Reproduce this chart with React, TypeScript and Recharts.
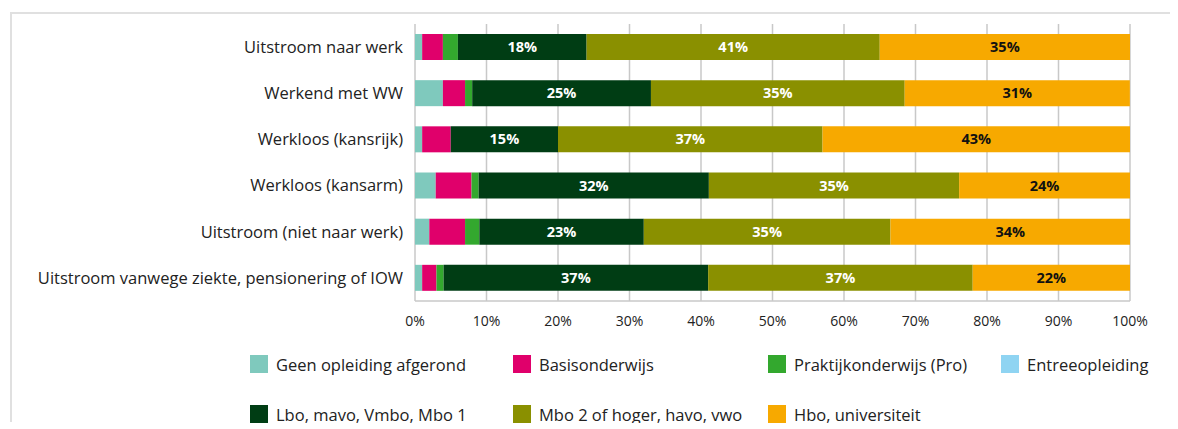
import React from "react";
import {
    Bar,
    BarChart,
    CartesianGrid,
    LabelList,
    XAxis,
    YAxis,
} from "recharts";

const categories = [
    "Uitstroom naar werk",
    "Werkend met WW",
    "Werkloos (kansrijk)",
    "Werkloos (kansarm)",
    "Uitstroom (niet naar werk)",
    "Uitstroom vanwege ziekte, pensionering of IOW",
];

const geen = [1, 3.9, 1, 2.9, 2, 1];
const basis = [2.9, 3.1, 4, 5, 5, 2];
const pro = [2.1, 1, 0, 1, 2, 1];
const entree = [0, 0, 0, 0, 0, 0];
const lbo = [18, 25, 15, 32.2, 23, 37];
const mbo = [41, 35.49, 37, 35, 34.5, 37];
const hbo = [35, 31.49, 43, 23.9, 33.5, 22];

const xTicks = [0, 10, 20, 30, 40, 50, 60, 70, 80, 90, 100];

const series = [
    { key: "geen", name: "Geen opleiding afgerond", color: "#7fc9bd", values: geen },
    { key: "basis", name: "Basisonderwijs", color: "#e0006b", values: basis },
    { key: "pro", name: "Praktijkonderwijs (Pro)", color: "#33a82e", values: pro },
    { key: "entree", name: "Entreeopleiding", color: "#8fd4f2", values: entree },
    { key: "lbo", name: "Lbo, mavo, Vmbo, Mbo 1", color: "#003d14", values: lbo, label: "#ffffff" },
    { key: "mbo", name: "Mbo 2 of hoger, havo, vwo", color: "#8a9000", values: mbo, label: "#ffffff" },
    { key: "hbo", name: "Hbo, universiteit", color: "#f7a900", values: hbo, label: "#111111" },
];

const data = categories.map((name, i) => {
    const row: any = { name };
    series.forEach((s) => {
        row[s.key] = s.values[i];
    });
    return row;
});

const font = "'Open Sans', sans-serif";

export default function App() {
    return (
        <div style={{ position: "relative", fontFamily: font }}>
            <div
                style={{
                    position: "absolute",
                    left: 2,
                    top: 4,
                    width: 1168,
                    height: 410,
                    borderTop: "2px solid #e0e0e0",
                    borderLeft: "2px solid #e0e0e0",
                    boxSizing: "border-box",
                }}
            />
            <BarChart
                width={1170}
                height={330}
                data={data}
                layout="vertical"
                margin={{ top: 16, right: 48, bottom: 0, left: 0 }}
                style={{ fontFamily: font }}
            >
                <CartesianGrid
                    horizontal={false}
                    stroke="#c8c8c8"
                    strokeWidth={1.5}
                />
                <XAxis
                    type="number"
                    domain={[0, 100]}
                    ticks={xTicks}
                    tickFormatter={(v) => `${v}%`}
                    height={37}
                    tickSize={0}
                    tickMargin={15}
                    axisLine={{ stroke: "#c8c8c8", strokeWidth: 1.5 }}
                    tick={{ fontSize: 14, fill: "#222" }}
                    interval={0}
                />
                <YAxis
                    type="category"
                    dataKey="name"
                    width={407}
                    tickSize={0}
                    tickMargin={12}
                    axisLine={false}
                    tick={{ fontSize: 16.5, fill: "#222" }}
                    interval={0}
                />
                {series.map((s) => (
                    <Bar
                        key={s.key}
                        dataKey={s.key}
                        name={s.name}
                        stackId="a"
                        fill={s.color}
                        barSize={26}
                        isAnimationActive={false}
                    >
                        {s.label && (
                            <LabelList
                                dataKey={s.key}
                                position="center"
                                formatter={(v: any) => `${Math.round(v)}%`}
                                style={{
                                    fill: s.label,
                                    fontWeight: 700,
                                    fontSize: 14.5,
                                    fontFamily: font,
                                }}
                            />
                        )}
                    </Bar>
                ))}
            </BarChart>
            <div
                style={{
                    display: "grid",
                    gridTemplateColumns: "263px 255px 233px auto",
                    rowGap: 32,
                    marginLeft: 242,
                    marginTop: 17,
                    fontSize: 16.5,
                    color: "#222",
                }}
            >
                {series.map((s) => (
                    <div
                        key={s.key}
                        style={{ display: "flex", alignItems: "center", height: 18 }}
                    >
                        <span
                            style={{
                                width: 18,
                                height: 18,
                                background: s.color,
                                display: "inline-block",
                                marginRight: 8,
                                flexShrink: 0,
                            }}
                        />
                        <span style={{ whiteSpace: "nowrap" }}>{s.name}</span>
                    </div>
                ))}
            </div>
        </div>
    );
}
